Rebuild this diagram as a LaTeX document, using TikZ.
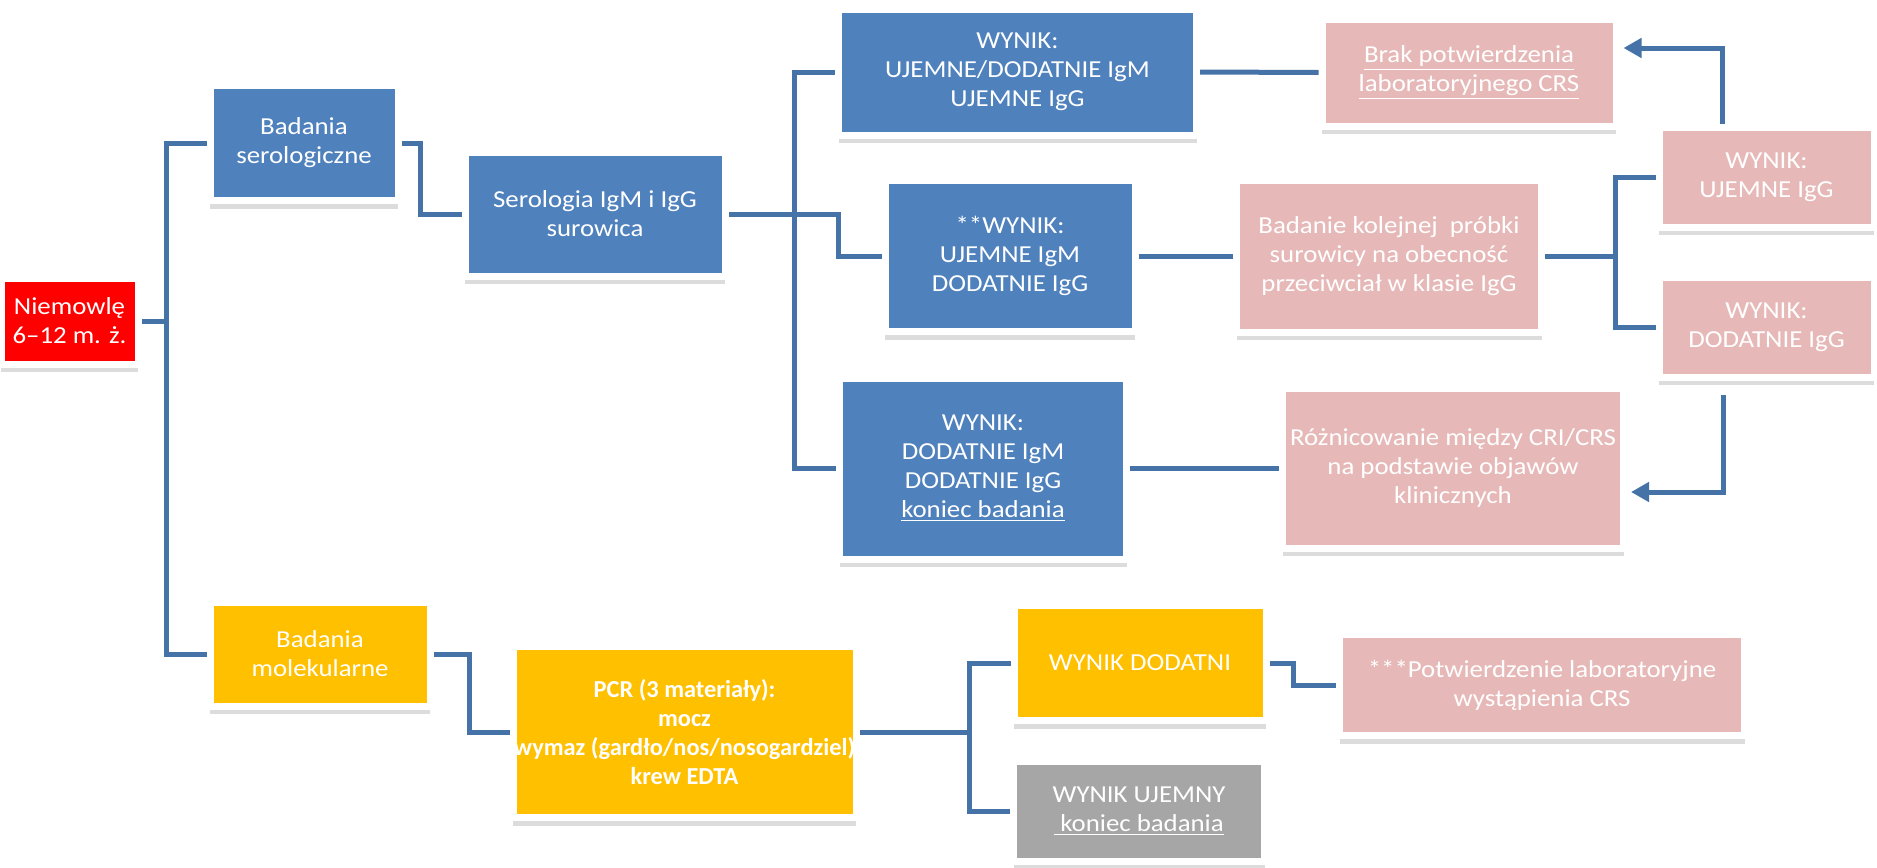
\documentclass[tikz,border=0pt]{standalone}
\usepackage{fontspec}
\setmainfont{Carlito}[FakeStretch=1.1]
\newfontfamily\plainfont{Carlito}
\usetikzlibrary{shadows,arrows.meta,backgrounds}
\definecolor{cblue}{HTML}{4F81BD}
\definecolor{cpink}{HTML}{E6B9B8}
\definecolor{cyel}{HTML}{FFC000}
\definecolor{cgray}{HTML}{A6A6A6}
\definecolor{cred}{HTML}{FF0000}
\definecolor{cline}{RGB}{69,114,167}
\begin{document}
\begin{tikzpicture}[x=0.5pt,y=-0.5pt,
  box/.style={draw=white, line width=3.5pt, text=white, align=center, inner sep=0pt,
    font=\fontsize{12.2}{14.5}\selectfont,
    drop shadow={shadow xshift=0pt, shadow yshift=-4pt, fill=black!50, opacity=0.28}},
  bluebox/.style={box, fill=cblue},
  pinkbox/.style={box, fill=cpink},
  yelbox/.style={box, fill=cyel},
  graybox/.style={box, fill=cgray},
  redbox/.style={box, fill=cred},
  conn/.style={draw=cline, line width=2.5pt, line join=miter},
  arr/.style={conn, -{Triangle[length=9pt,width=9.5pt]}},
]
\useasboundingbox (0,0) rectangle (1877,867);

\node[redbox, minimum width=68.5pt, minimum height=43pt] (niem) at (69.5,321) {Niemowlę\\6–12 m. ż.};
\node[bluebox, minimum width=94pt, minimum height=57.5pt] (bser) at (304,143) {Badania\\serologiczne};
\node[bluebox, minimum width=130pt, minimum height=62pt] (sero) at (595,214) {Serologia IgM i IgG\\surowica};
\node[bluebox, minimum width=179pt, minimum height=63pt] (w1) at (1017.5,72) {WYNIK:\\UJEMNE/DODATNIE IgM\\UJEMNE IgG};
\node[pinkbox, minimum width=147pt, minimum height=53.5pt] (brak) at (1469,72.5) {\underline{Brak potwierdzenia}\\\underline{laboratoryjnego CRS}};
\node[bluebox, minimum width=125pt, minimum height=75.5pt] (w2) at (1010,256) {**WYNIK:\\UJEMNE IgM\\DODATNIE IgG};
\node[pinkbox, minimum width=152.5pt, minimum height=76pt] (badk) at (1389,256) {Badanie kolejnej\ \ próbki\\surowicy na obecność\\przeciwciał w klasie IgG};
\node[pinkbox, minimum width=107.5pt, minimum height=50pt] (ujg) at (1766.5,177) {WYNIK:\\UJEMNE IgG};
\node[pinkbox, minimum width=107.5pt, minimum height=50pt] (dodg) at (1766.5,327) {WYNIK:\\DODATNIE IgG};
\node[bluebox, minimum width=143.5pt, minimum height=90.5pt] (w3) at (983,468.5) {WYNIK:\\DODATNIE IgM\\DODATNIE IgG\\\underline{koniec badania}};
\node[pinkbox, minimum width=170.5pt, minimum height=80pt] (roz) at (1453,468) {Różnicowanie między CRI/CRS\\na podstawie objawów\\klinicznych};
\node[yelbox, minimum width=110pt, minimum height=52pt] (bmol) at (320,654) {Badania\\molekularne};
\node[yelbox, minimum width=171.5pt, minimum height=85.5pt, font=\plainfont\fontsize{12.2}{14.5}\selectfont\bfseries] (pcr) at (684.5,732) {PCR (3 materiały):\\mocz\\wymaz (gardło/nos/nosogardziel)\\krew EDTA};
\node[yelbox, minimum width=126pt, minimum height=57.5pt] (wdod) at (1140,663) {WYNIK DODATNI};
\node[pinkbox, minimum width=202.5pt, minimum height=50.5pt] (pot) at (1542,685) {***Potwierdzenie laboratoryjne\\wystąpienia CRS};
\node[graybox, minimum width=125.5pt, minimum height=50pt] (wuje) at (1139,811) {WYNIK UJEMNY\\\underline{\ koniec badania}};

\coordinate (j1) at (166,321);
\coordinate (j2) at (420,214);
\coordinate (j3) at (838,256);
\coordinate (j4) at (794,214);
\coordinate (j5) at (1615,256);
\coordinate (j6) at (469,732);
\coordinate (j7) at (969,732);
\coordinate (j8) at (1293,685);
\coordinate (a1) at (1722,48);
\coordinate (a2) at (1723,492);

\begin{scope}[on background layer]
\draw[conn] (niem.east) -- (j1);
\draw[conn] (bser.west) -| (j1) |- (bmol.west);
\draw[conn] (bser.east) -| (j2) -- (sero.west);
\draw[conn] (sero.east) -| (j3) -- (w2.west);
\draw[conn] (w1.west) -| (j4) |- (w3.west);
\draw[conn] (w1.east) -- (brak.west);
\draw[conn] (w2.east) -- (badk.west);
\draw[conn] (w3.east) -- (roz.west |- w3.east);
\draw[conn] (badk.east) -- (j5);
\draw[conn] (ujg.west) -| (j5) |- (dodg.west);
\draw[conn] (bmol.east) -| (j6) -- (pcr.west);
\draw[conn] (pcr.east) -- (j7);
\draw[conn] (wdod.west) -| (j7) |- (wuje.west);
\draw[conn] (wdod.east) -| (j8) -- (pot.west);
\end{scope}
\draw[arr, shorten >=2pt] (ujg.north -| a1) -- (a1) -- (brak.east |- a1);
\draw[arr, shorten <=7pt, shorten >=2pt] (dodg.south -| a2) -- (a2) -- (roz.east |- a2);
\end{tikzpicture}
\end{document}
